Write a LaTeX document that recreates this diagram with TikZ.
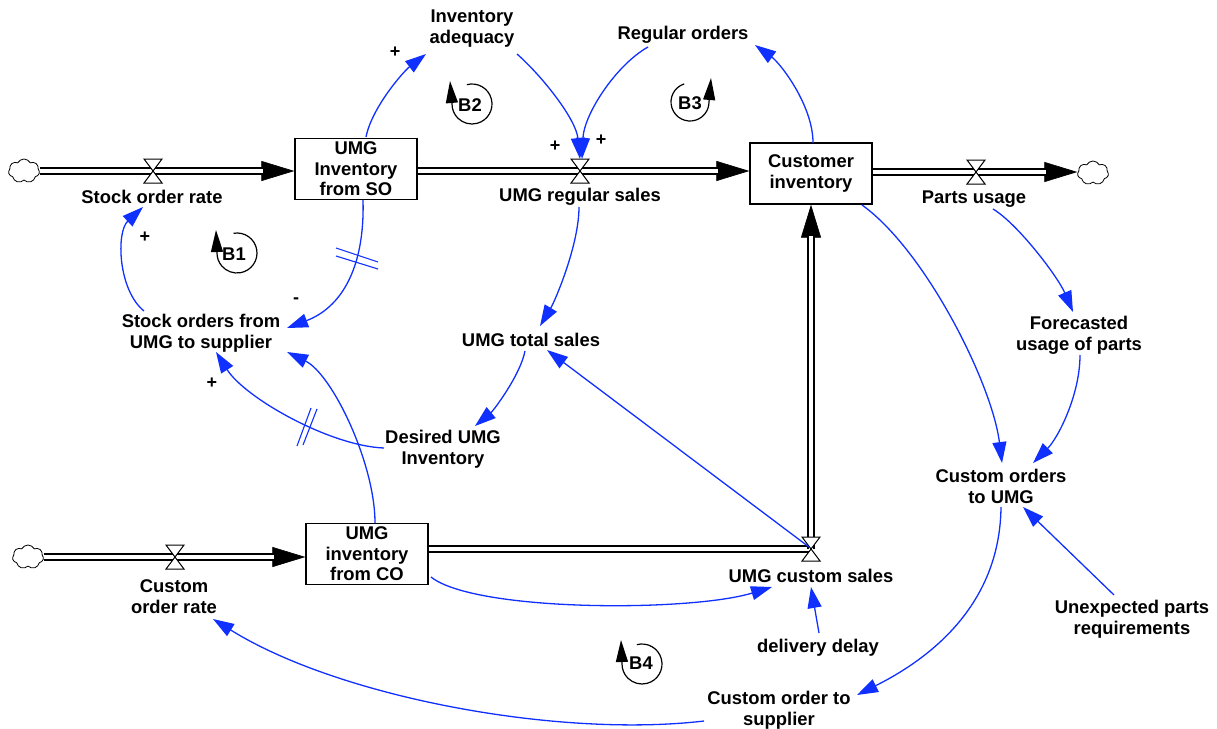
\documentclass[tikz,border=0pt]{standalone}
\usepackage{fontspec}
\setmainfont{Liberation Sans}
\usetikzlibrary{arrows.meta,shapes.symbols}
\definecolor{linkblue}{RGB}{16,48,255}

\tikzset{
  valve/.pic={\draw[line width=1pt, fill=white] (-9,-12) -- (9,-12) -- (-9,12) -- (9,12) -- cycle;}
}

\begin{document}
\begin{tikzpicture}[x=1pt,y=-1pt,
  lbl/.style={font=\fontsize{18.4}{21}\selectfont\bfseries, align=center, inner sep=2pt},
  stock/.style={draw, line width=1.3pt, fill=white, minimum width=122pt, minimum height=61pt,
    inner sep=0pt, align=center, font=\fontsize{18.4}{20.5}\selectfont\bfseries},
  sink/.style={cloud, cloud puffs=7, cloud puff arc=125, aspect=1.3, draw=black, line width=0.8pt,
    fill=white, minimum width=31pt, minimum height=24pt, inner sep=0pt},
  flow/.style={line width=1.8pt, double=white, double distance=3.8pt},
  flowin/.style={flow, shorten >=31pt},
  flowtip/.style={-{Triangle[length=33pt,width=20pt]}, line width=0.6pt},
  link/.style={draw=linkblue, line width=1.3pt, -{Triangle[length=21pt,width=14pt]}},
  delaymark/.style={draw=linkblue, line width=1.1pt},
  sign/.style={font=\fontsize{18}{20}\selectfont\bfseries, inner sep=0pt},
  loopc/.style={line width=1.2pt, -{Triangle[length=22pt,width=12pt]}}
]
\useasboundingbox (0,0) rectangle (1217,728);

% stocks
\node[stock] (so) at (356,169) {UMG\\Inventory\\from SO};
\node[stock] (ci) at (811,173.5) {Customer\\inventory};
\node[stock] (co) at (367,554) {UMG\\inventory\\from CO};

% sources and sinks
\node[sink] (c1) at (24,171) {};
\node[sink] (c2) at (1093,173) {};
\node[sink] (c3) at (28,557) {};

% valves
\coordinate (vsor) at (153,171);
\coordinate (vurs) at (580,171);
\coordinate (vpu)  at (976,172);
\coordinate (vcor) at (175,557);
\coordinate (vucs) at (811,549);

% variables
\node[lbl] (ia)  at (472,28.5)   {Inventory\\adequacy};
\node[lbl] (ro)  at (683,34.5)   {Regular orders};
\node[lbl] (sor) at (152,197)    {Stock order rate};
\node[lbl] (urs) at (580,197)    {UMG regular sales};
\node[lbl] (pu)  at (974,199)    {Parts usage};
\node[lbl] (sto) at (201,333.5)  {Stock orders from\\UMG to supplier};
\node[lbl] (uts) at (531,340)    {UMG total sales};
\node[lbl] (fup) at (1079,335)   {Forecasted\\usage of parts};
\node[lbl] (dui) at (443,449.5)  {Desired UMG\\Inventory};
\node[lbl] (cou) at (1001,486.5) {Custom orders\\to UMG};
\node[lbl] (ucs) at (811,576)    {UMG custom sales};
\node[lbl] (cor) at (174,596.5)  {Custom\\order rate};
\node[lbl] (dd)  at (818,648)    {delivery delay};
\node[lbl] (upr) at (1132,619.5) {Unexpected parts\\requirements};
\node[lbl] (cos) at (779,710)    {Custom order to\\supplier};

% material flows
\draw[flowtip] (c1.east) -- (c1.east -| so.west);
\draw[flowin]  (c1.east) -- (c1.east -| so.west);
\draw[flowtip] (vurs -| so.east) -- (vurs -| ci.west);
\draw[flowin]  (vurs -| so.east) -- (vurs -| ci.west);
\draw[flowtip] (vpu -| ci.east) -- (vpu -| c2.west);
\draw[flowin]  (vpu -| ci.east) -- (vpu -| c2.west);
\draw[flowtip] (c3.east) -- (c3.east -| co.west);
\draw[flowin]  (c3.east) -- (c3.east -| co.west);
\draw[flow]    (vucs -| co.east) -- (vucs);
\draw[flowtip] (vucs) -- (vucs |- ci.south);
\draw[flowin]  (vucs) -- (vucs |- ci.south);

\pic at (vsor) {valve};
\pic at (vurs) {valve};
\pic at (vpu)  {valve};
\pic at (vcor) {valve};
\pic at (vucs) {valve};

% causal links
\draw[link] ([shift={(10,-32)}]so.center) .. controls +(6,-30) and +(-22,17) .. ([shift={(-46,25.5)}]ia.center);
\draw[link] ([shift={(45,25.5)}]ia.center) .. controls +(25,22) and +(-4,-40) .. ([shift={(0,-12)}]vurs);
\draw[link] ([shift={(-35,12.5)}]ro.center) .. controls +(-32,18) and +(2,-45) .. ([shift={(2,-12)}]vurs);
\draw[link] ([shift={(2,-30.5)}]ci.center) .. controls +(0,-38) and +(25,18) .. ([shift={(72,10.5)}]ro.center);
\draw[link] ([shift={(-1,10)}]urs.center) .. controls +(0,38) and +(15,-25) .. ([shift={(9,-14)}]uts.center);
\draw[link] ([shift={(-6,11)}]uts.center) .. controls +(-5,25) and +(18,-15) .. ([shift={(32,-23.5)}]dui.center);
\draw[link] ([shift={(7,31)}]so.center) .. controls +(2,70) and +(53,-20) .. ([shift={(86,-5.5)}]sto.center);
\draw[link] ([shift={(-57,-22.5)}]sto.center) .. controls +(-26,-21) and +(-27,25) .. ([shift={(-9,10)}]sor.center);
\draw[link] ([shift={(-59,-1.5)}]dui.center) .. controls +(-54,-2) and +(29,46) .. ([shift={(15,18.5)}]sto.center);
\draw[link] ([shift={(8,-31)}]co.center) .. controls +(0,-60) and +(45,22) .. ([shift={(86,18.5)}]sto.center);
\draw[link] ([shift={(64,23)}]co.center) .. controls +(44,35) and +(-82,25) .. ([shift={(-39,11)}]ucs.center);
\draw[link] ([shift={(-2,-2)}]vucs) -- ([shift={(16,10)}]uts.center);
\draw[link] ([shift={(1,-15)}]dd.center) -- ([shift={(0,11)}]ucs.center);
\draw[link] ([shift={(51,31.5)}]ci.center) .. controls +(63,45) and +(-10,-80) .. ([shift={(1,-23.5)}]cou.center);
\draw[link] ([shift={(19,10)}]pu.center) .. controls +(25,15) and +(-15,-35) .. ([shift={(-6,-23)}]fup.center);
\draw[link] ([shift={(1,20)}]fup.center) .. controls +(0,40) and +(25,-25) .. ([shift={(32,-23.5)}]cou.center);
\draw[link] ([shift={(-18,-24.5)}]upr.center) -- ([shift={(22,20.5)}]cou.center);
\draw[link] ([shift={(0,20.5)}]cou.center) .. controls +(-1,93) and +(80,-40) .. ([shift={(78,-15)}]cos.center);
\draw[link] ([shift={(-75,11)}]cos.center) .. controls +(-144,17) and +(127,79) .. ([shift={(39,22.5)}]cor.center);

% information delays
\draw[delaymark] (336,248) -- (378,262);
\draw[delaymark] (336,256) -- (378,269);
\draw[delaymark] (317,409) -- (303,445);
\draw[delaymark] (311,408) -- (297,446);

% link polarities
\node[sign] (p1) at (395,52)  {+};
\node[sign] (p2) at (555,146) {+};
\node[sign] (p3) at (601,140) {+};
\node[sign] (p4) at (145,237) {+};
\node[sign] (p5) at (212,383) {+};
\node[sign] (m1) at (296,301) {-};

% loop identifiers
\node[lbl] (b1) at (234,254) {B1};
\draw[loopc] ([shift={(3,-1)}]b1.center) ++(-100:20) arc[start angle=-100, end angle=180, radius=20] -- ++(-1,-23);
\node[lbl] (b2) at (470,105) {B2};
\draw[loopc] ([shift={(2,-1)}]b2.center) ++(-105:20) arc[start angle=-105, end angle=180, radius=20] -- ++(-2,-23);
\node[lbl] (b3) at (690,103) {B3};
\draw[loopc] ([shift={(0,-1)}]b3.center) ++(-108:19) arc[start angle=-108, end angle=-360, radius=19] -- ++(2,-24);
\node[lbl] (b4) at (641,663) {B4};
\draw[loopc] ([shift={(1,1)}]b4.center) ++(-105:20) arc[start angle=-105, end angle=180, radius=20] -- ++(-1,-24);
\end{tikzpicture}
\end{document}
